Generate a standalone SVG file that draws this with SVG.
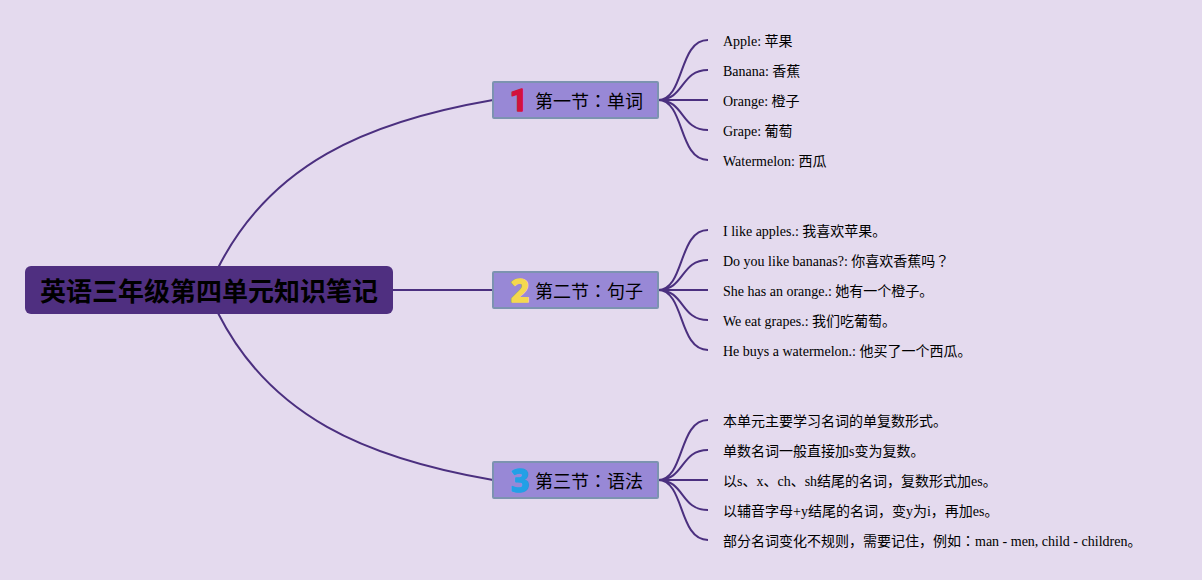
<svg xmlns="http://www.w3.org/2000/svg" width="1202" height="580" viewBox="0 0 1202 580">
<style>
text{font-family:"Liberation Serif","Noto Sans CJK SC",serif}
.tc{font-family:"Noto Sans CJK TC",serif}
.leaf{font-size:14px}
.sec rect{fill:#9888d6;stroke:#7c93b0;stroke-width:2}
.lab{font-size:18px}
.num{font-family:"Noto Sans","Liberation Sans",sans-serif;font-weight:700;font-size:32px;stroke-width:1.5;stroke-linejoin:round;text-anchor:middle}
.one{font-family:Roboto,sans-serif}
.c{fill:none;stroke:#4b2f7f;stroke-width:2}
</style>
<rect width="1202" height="580" fill="#e4daee"/>
<g id="connectors">
<path class="c" d="M218 268C270 165 365 122 493 100"/>
<path class="c" d="M393 290H493"/>
<path class="c" d="M218 313C270 416 365 458 493 480"/>
<path class="c" d="M658 100C685 100 678 40 708 40M658 100C685 100 680 70 708 70M658 100H708M658 100C685 100 680 130 708 130M658 100C685 100 678 160 708 160"/>
<path class="c" d="M658 290C685 290 678 230 708 230M658 290C685 290 680 260 708 260M658 290H708M658 290C685 290 680 320 708 320M658 290C685 290 678 350 708 350"/>
<path class="c" d="M658 480C685 480 678 420 708 420M658 480C685 480 680 450 708 450M658 480H708M658 480C685 480 680 510 708 510M658 480C685 480 678 540 708 540"/>
</g>
<g id="root"><rect x="25" y="266" width="368" height="48" rx="6" fill="#4f2f80"/>
<text x="209" y="301" text-anchor="middle" font-size="26" font-weight="700">英语三年级第四单元知识笔记</text></g>
<g id="s1" class="sec"><rect x="493" y="82" width="165" height="36" rx="1"/><text class="num one" x="519" y="111" fill="#d3123c" stroke="#d3123c">1</text><text class="lab" x="535" y="108">第一节<tspan class="tc">：</tspan>单词</text></g>
<g id="s2" class="sec"><rect x="493" y="272" width="165" height="36" rx="1"/><text class="num" x="520" y="301.500" fill="#f4d84e" stroke="#f4d84e">2</text><text class="lab" x="535" y="298">第二节<tspan class="tc">：</tspan>句子</text></g>
<g id="s3" class="sec"><rect x="493" y="462" width="165" height="36" rx="1"/><text class="num" x="520" y="491.500" fill="#23a0e6" stroke="#23a0e6">3</text><text class="lab" x="535" y="488">第三节<tspan class="tc">：</tspan>语法</text></g>
<g id="l11"><text class="leaf" x="723" y="46">Apple: 苹果</text></g>
<g id="l12"><text class="leaf" x="723" y="76">Banana: 香蕉</text></g>
<g id="l13"><text class="leaf" x="723" y="106">Orange: 橙子</text></g>
<g id="l14"><text class="leaf" x="723" y="136">Grape: 葡萄</text></g>
<g id="l15"><text class="leaf" x="723" y="166">Watermelon: 西瓜</text></g>
<g id="l21"><text class="leaf" x="723" y="236">I like apples.: 我喜欢苹果。</text></g>
<g id="l22"><text class="leaf" x="723" y="266">Do you like bananas?: 你喜欢香蕉吗<tspan class="tc">？</tspan></text></g>
<g id="l23"><text class="leaf" x="723" y="296">She has an orange.: 她有一个橙子。</text></g>
<g id="l24"><text class="leaf" x="723" y="326">We eat grapes.: 我们吃葡萄。</text></g>
<g id="l25"><text class="leaf" x="723" y="356">He buys a watermelon.: 他买了一个西瓜。</text></g>
<g id="l31"><text class="leaf" x="723" y="426">本单元主要学习名词的单复数形式。</text></g>
<g id="l32"><text class="leaf" x="723" y="456">单数名词一般直接加s变为复数。</text></g>
<g id="l33"><text class="leaf" x="723" y="486">以s、x、ch、sh结尾的名词，复数形式加es。</text></g>
<g id="l34"><text class="leaf" x="723" y="516">以辅音字母+y结尾的名词，变y为i，再加es。</text></g>
<g id="l35"><text class="leaf" x="723" y="546">部分名词变化不规则，需要记住，例如<tspan class="tc">：</tspan>man - men, child - children。</text></g>
</svg>
